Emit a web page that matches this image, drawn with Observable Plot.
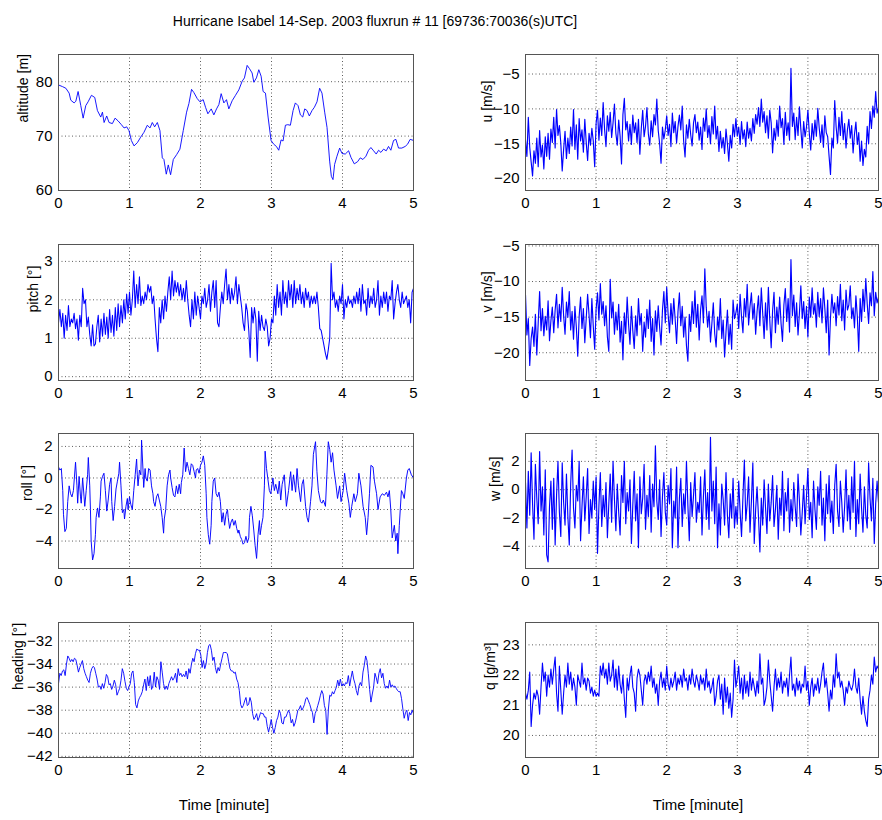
<!DOCTYPE html>
<html><head><meta charset="utf-8">
<script src="https://cdn.jsdelivr.net/npm/d3@7"></script>
<script src="https://cdn.jsdelivr.net/npm/@observablehq/plot@0.6"></script>
<style>
body{margin:0;background:#fff;}
#fig{position:relative;width:882px;height:820px;background:#fff;font-family:"Liberation Sans",Arial,sans-serif;overflow:hidden;}
.panel{position:absolute;}
.panel svg{max-width:none!important;}
#title{position:absolute;left:375px;top:13px;transform:translateX(-50%);font-size:14px;line-height:16px;white-space:nowrap;color:#000;}
</style></head><body>
<div id="fig"><div id="title">Hurricane Isabel 14-Sep. 2003 fluxrun # 11 [69736:70036(s)UTC]</div></div>
<script>
const TIME_END = 5;
const minuteTicks = [0,1,2,3,4,5];

// altitude [m] : [minute, value]
const altitude = [[0,79.4],[0.056,79.1],[0.103,78.8],[0.15,77.9],[0.173,76.6],[0.22,76.1],[0.244,76.4],[0.276,78.2],[0.314,75.6],[0.347,73.3],[0.384,75.6],[0.417,76.3],[0.464,77.5],[0.511,77.1],[0.548,74.7],[0.595,73.5],[0.619,74.4],[0.642,72.5],[0.679,73.7],[0.712,72.5],[0.759,72.3],[0.797,73.3],[0.839,72.8],[0.886,72.1],[0.923,71.5],[0.961,71.7],[0.993,71.0],[1.026,69.2],[1.064,68.2],[1.111,68.8],[1.157,69.8],[1.204,70.7],[1.251,72.0],[1.289,71.5],[1.321,72.5],[1.354,71.7],[1.392,72.5],[1.429,71.0],[1.462,66.0],[1.485,65.7],[1.518,63.0],[1.546,64.7],[1.579,62.9],[1.617,65.7],[1.664,66.6],[1.71,67.6],[1.757,71.0],[1.804,74.4],[1.837,76.0],[1.874,78.6],[1.907,78.0],[1.954,76.9],[1.992,76.3],[2.038,76.7],[2.071,75.3],[2.104,74.1],[2.151,75.0],[2.188,73.9],[2.226,75.0],[2.259,75.8],[2.291,77.8],[2.329,76.1],[2.366,76.7],[2.399,75.0],[2.446,76.5],[2.493,77.5],[2.54,78.5],[2.587,80.1],[2.619,80.7],[2.657,83.0],[2.69,82.4],[2.727,81.6],[2.751,79.9],[2.788,80.7],[2.821,82.2],[2.854,81.0],[2.882,78.2],[2.915,77.9],[2.952,73.5],[2.994,69.2],[3.032,68.5],[3.069,68.1],[3.102,67.4],[3.135,69.3],[3.163,69.1],[3.196,72.0],[3.229,72.1],[3.266,72.0],[3.304,74.7],[3.336,76.1],[3.374,75.6],[3.407,73.9],[3.44,73.5],[3.468,75.0],[3.5,74.7],[3.533,73.7],[3.571,74.7],[3.604,75.3],[3.641,76.3],[3.678,78.8],[3.711,77.9],[3.749,74.4],[3.782,71.6],[3.819,65.4],[3.843,62.6],[3.866,62.0],[3.889,64.8],[3.922,66.3],[3.96,67.8],[3.993,66.8],[4.039,66.7],[4.086,67.3],[4.119,66.1],[4.166,64.9],[4.213,65.3],[4.25,66.0],[4.288,65.7],[4.33,66.3],[4.367,67.4],[4.4,67.9],[4.438,67.3],[4.475,66.7],[4.508,67.4],[4.541,67.0],[4.578,67.6],[4.616,67.3],[4.648,68.1],[4.681,67.4],[4.719,69.2],[4.752,69.4],[4.789,67.8],[4.836,67.8],[4.883,68.1],[4.916,68.5],[4.953,69.4],[5,69.2]];

// roll [deg] : [minute, value]
const roll = [[0,0.7],[0.02,0.5],[0.04,0.6],[0.06,-0.8],[0.07,-2.3],[0.09,-3.4],[0.11,-3.2],[0.13,-1.5],[0.15,-0.5],[0.17,-1.0],[0.19,-1.2],[0.21,-0.8],[0.24,1.0],[0.26,-0.5],[0.27,-1.6],[0.29,0.1],[0.31,-1.2],[0.32,-1.6],[0.34,0.0],[0.36,-1.2],[0.37,-1.8],[0.39,-0.8],[0.41,0.2],[0.42,1.3],[0.44,-0.5],[0.45,-2.0],[0.46,-4.0],[0.48,-5.2],[0.50,-4.8],[0.52,-3.6],[0.53,-2.5],[0.55,-1.9],[0.57,-2.5],[0.59,-1.2],[0.60,-0.2],[0.62,0.1],[0.64,0.3],[0.66,-0.8],[0.68,-2.1],[0.70,-1.4],[0.72,-0.4],[0.74,0.0],[0.75,-1.5],[0.77,-2.7],[0.79,-1.8],[0.81,-0.7],[0.83,-0.2],[0.85,0.3],[0.86,1.0],[0.88,-0.5],[0.90,-2.2],[0.92,-2.0],[0.93,-2.6],[0.95,-1.8],[0.97,-1.3],[0.98,-2.0],[1.00,-1.2],[1.02,-1.7],[1.04,-2.0],[1.06,-0.8],[1.08,0.2],[1.10,1.2],[1.11,0.2],[1.12,-0.5],[1.14,0.5],[1.16,0.2],[1.17,2.4],[1.19,0.5],[1.20,-0.6],[1.22,0.6],[1.23,0.0],[1.25,-0.2],[1.27,0.6],[1.29,0.5],[1.31,-0.5],[1.33,-1.0],[1.34,-1.5],[1.36,-1.8],[1.38,-1.2],[1.40,-1.0],[1.42,-1.4],[1.44,-1.8],[1.46,-2.5],[1.48,-3.5],[1.49,-2.6],[1.51,-2.0],[1.53,-0.5],[1.55,0.2],[1.57,0.5],[1.58,0.0],[1.60,-0.6],[1.62,-1.1],[1.64,-1.2],[1.66,-0.5],[1.68,-1.0],[1.70,-0.4],[1.72,-1.0],[1.73,-0.3],[1.75,0.2],[1.77,1.9],[1.79,0.4],[1.81,1.0],[1.83,0.6],[1.85,0.2],[1.87,0.9],[1.89,0.8],[1.91,0.4],[1.93,0.0],[1.94,0.5],[1.96,0.6],[1.98,0.3],[2.00,0.8],[2.02,1.0],[2.04,1.4],[2.06,0.8],[2.08,-1.0],[2.09,-2.5],[2.11,-3.6],[2.13,-4.2],[2.15,-3.0],[2.16,-1.5],[2.18,-0.2],[2.20,0.0],[2.22,-1.0],[2.24,-1.2],[2.26,-0.9],[2.28,-1.5],[2.30,-2.8],[2.32,-2.2],[2.34,-3.0],[2.36,-2.3],[2.38,-2.0],[2.39,-2.5],[2.41,-3.2],[2.43,-2.8],[2.45,-2.6],[2.47,-3.0],[2.49,-2.7],[2.51,-3.2],[2.53,-3.5],[2.54,-3.3],[2.56,-3.7],[2.58,-3.9],[2.60,-4.2],[2.62,-4.1],[2.64,-3.7],[2.66,-4.1],[2.68,-3.8],[2.69,-2.5],[2.71,-1.8],[2.73,-2.4],[2.75,-3.3],[2.77,-4.3],[2.79,-5.1],[2.81,-3.6],[2.83,-2.7],[2.84,-3.6],[2.86,-3.0],[2.88,-2.5],[2.90,-0.5],[2.91,1.7],[2.93,0.6],[2.97,-0.8],[2.99,-1.0],[3.02,0.0],[3.04,-0.8],[3.06,-0.4],[3.09,-1.0],[3.11,-0.2],[3.13,-1.4],[3.15,-0.4],[3.18,0.2],[3.21,-1.8],[3.24,-0.8],[3.27,0.4],[3.29,-0.8],[3.31,0.2],[3.34,-0.9],[3.36,0.6],[3.38,-0.5],[3.41,-1.5],[3.43,-0.4],[3.45,-0.1],[3.48,-1.8],[3.50,-2.5],[3.52,-2.8],[3.55,-1.5],[3.57,-0.5],[3.59,1.5],[3.62,2.3],[3.64,0.4],[3.66,-0.8],[3.69,-1.5],[3.71,-1.6],[3.73,-1.4],[3.76,-1.8],[3.78,0.2],[3.80,2.3],[3.82,1.8],[3.84,1.0],[3.86,1.6],[3.88,0.5],[3.91,-0.5],[3.93,-1.3],[3.96,-0.5],[3.98,-1.5],[4.01,-0.8],[4.03,0.3],[4.06,-0.8],[4.09,-1.6],[4.11,-2.5],[4.13,-1.8],[4.16,-1.0],[4.18,-1.5],[4.21,-1.0],[4.23,0.3],[4.26,-0.5],[4.29,-1.8],[4.32,-2.5],[4.34,-3.6],[4.36,-2.5],[4.38,-1.0],[4.40,0.8],[4.43,0.7],[4.45,-0.2],[4.48,-1.0],[4.50,-2.0],[4.53,-1.2],[4.56,-1.0],[4.59,-1.1],[4.62,-0.9],[4.64,-1.2],[4.66,-0.8],[4.68,-2.0],[4.70,-3.8],[4.73,-3.0],[4.75,-4.0],[4.77,-3.5],[4.78,-4.8],[4.80,-3.0],[4.83,-0.8],[4.85,-1.0],[4.87,-1.3],[4.90,0.0],[4.92,0.5],[4.94,0.6],[4.97,0.2],[5.00,0.0]];

// evenly sampled series over 0..5 minutes
const heading = [-35.7,-34.8,-35.0,-34.6,-34.5,-35.0,-34.0,-33.3,-33.5,-33.8,-33.6,-33.8,-33.5,-33.6,-34.1,
-34.7,-34.3,-34.0,-33.7,-34.4,-34.8,-35.1,-35.4,-35.6,-34.8,-34.4,-34.2,-34.3,-34.8,-35.3,-36.0,-35.9,-36.2,-35.7,-36.1,-35.6,-34.9,-35.1,
-35.8,-35.7,-36.2,-35.9,-35.4,-35.8,-36.7,-36.4,-36.1,-35.4,-34.4,-34.8,-35.5,-36.1,-36.3,-36.0,-35.7,-34.8,-34.6,-35.6,-37.5,-37.8,-37.2,-36.9,-36.7,-36.4,-35.8,-35.3,-36.3,-35.1,-35.9,-35.0,-36.2,-35.9,-34.7,-36.0,-35.1,-35.4,-36.2,-33.8,-34.7,-35.7,-36.2,-35.9,-36.2,-35.7,-35.4,-35.1,-35.4,-35.2,-34.8,-35.6,-34.4,-35.0,-34.8,-35.1,-34.9,-35.1,-34.6,-35.3,-34.4,-34.8,-34.0,-33.5,-33.8,-33.1,-32.7,-32.8,-32.8,-33.2,-34.3,-33.7,-34.4,-34.0,-33.0,-32.4,-32.3,-32.8,-33.7,-33.4,-34.3,-34.8,-34.3,-34.6,-34.0,-33.5,-33.0,-33.0,-33.0,-33.1,-33.8,-34.4,-34.6,-34.6,-34.8,-34.7,-35.3,-35.6,-36.3,-37.5,-37.8,-37.6,-37.2,-36.9,-37.6,-37.5,-36.9,-37.3,-38.3,-38.8,-38.6,-38.3,-38.9,-38.6,-38.2,-38.3,-38.3,-38.6,-38.6,-39.4,-39.9,-39.4,-38.8,-39.5,-40.0,-39.5,-38.9,-38.6,-38.0,-38.3,-39.1,-39.2,-38.6,-38.6,-38.3,-38.0,-38.3,-39.1,-38.8,-39.4,-39.1,-38.6,-38.0,-37.9,-37.6,-38.0,-37.8,-37.5,-37.0,-36.9,-37.2,-37.5,-37.9,-38.2,-39.1,-38.3,-38.0,-37.6,-37.2,-36.7,-36.3,-36.6,-37.6,-38.0,-40.1,-37.9,-36.7,-36.8,-36.4,-36.6,-36.3,-36.0,-35.4,-35.9,-35.3,-35.9,-35.7,-35.9,-35.6,-35.7,-35.0,-35.9,-35.2,-34.6,-35.3,-35.7,-36.3,-36.7,-35.9,-35.6,-35.9,-34.7,-34.1,-33.3,-33.7,-34.8,-36.2,-37.3,-36.6,-36.0,-34.8,-35.2,-35.7,-34.8,-34.4,-35.2,-34.8,-35.7,-36.1,-35.9,-36.1,-35.4,-36.0,-35.8,-36.0,-35.9,-36.1,-36.3,-36.4,-36.4,-37.0,-37.9,-38.7,-38.2,-38.0,-38.9,-38.2,-38.4,-38.0,-38.3];

const pitch = [1.4,1.75,1.3,1.65,1.0, 1.6,1.2,1.85,1.3,1.5, 1.4,1.65,1.25,1.5,0.95, 1.6,1.3,2.3,1.9,2.0, 1.3,1.55,1.1,0.8,1.35,
0.8,0.85,1.3,1.6,0.9, 1.5,1.05,1.65,1.1,1.55, 1.0,1.75,1.15,1.6,1.05, 1.8,1.2,1.9,1.3,1.85, 1.4,2.0,1.5,2.15,1.65,
2.2,1.6,2.0,2.75,1.8, 2.4,1.9,2.6,1.85,2.1, 1.9,2.2,2.0,2.4,2.2, 2.35,1.9,2.1,1.5,1.0, 0.65,1.8,1.4,2.0,1.5,
2.1,1.7,2.2,2.6,2.0, 2.75,2.1,2.5,2.2,2.45, 2.1,2.4,2.0,2.3,1.95, 2.5,2.0,1.6,1.3,2.0, 1.5,2.2,1.6,2.1,1.8,
1.5,2.1,1.9,2.3,1.8, 2.0,2.4,1.7,2.2,2.5, 1.8,2.5,1.4,1.3,1.8, 2.2,1.9,2.4,2.8,2.0, 2.4,1.9,2.3,2.0,2.2,
2.6,1.9,2.4,2.1,1.8, 1.4,1.2,1.9,1.7,1.2, 0.5,1.8,1.4,1.8,1.5, 0.4,1.7,1.2,1.6,1.3, 1.2,1.5,1.3,0.8,1.0,
1.5,1.4,2.1,1.6,2.4, 1.8,2.2,1.6,2.5,1.9, 2.2,1.8,2.5,2.0,2.4, 1.8,2.5,1.9,2.3,2.0, 2.4,1.9,2.2,1.8,2.3,
2.0,2.2,1.8,2.1,1.9, 2.1,1.9,2.2,1.8,1.25, 1.2,1.0,0.8,0.6,0.45, 0.7,1.0,2.95,2.0,2.2, 1.8,2.0,1.7,2.1,1.9,
2.4,1.5,2.0,1.8,2.1, 1.9,2.0,1.8,2.1,1.9, 2.2,1.9,2.3,1.7,2.4, 1.9,2.0,1.6,2.3,1.8, 2.1,1.9,2.3,1.8,2.0,
2.5,1.6,2.1,1.8,2.2, 1.9,2.2,1.7,2.1,2.0, 2.5,1.5,1.9,2.2,2.4, 2.0,1.8,2.2,1.9,2.0, 2.1,1.8,2.0,1.4,2.2, 2.3];

const u = [-14.5,-16.8,-11.2,-15.5,-17.6, -19.6,-16.0,-17.8,-14.2,-18.3, -13.1,-16.9,-15.2,-18.6,-14.0, -16.8,-13.5,-17.2,-12.9,-14.8, -11.2,-15.6,-10.1,-13.8,-12.4,
-14.9,-18.9,-15.8,-13.2,-17.1, -14.2,-16.4,-12.6,-15.3,-10.1, -15.8,-12.3,-17.2,-11.4,-14.6, -13.0,-16.2,-11.5,-14.8,-17.4, -13.5,-15.2,-12.8,-14.6,-18.3,
-12.1,-10.2,-14.5,-11.3,-13.8, -9.1,-12.9,-15.4,-11.0,-13.2, -10.5,-14.1,-12.0,-9.3,-13.5, -15.2,-11.6,-13.9,-17.9,-10.8, -8.5,-13.0,-11.8,-14.6,-12.2,
-15.1,-10.9,-13.4,-12.0,-14.8, -11.5,-16.5,-12.8,-10.2,-14.0, -12.5,-9.8,-13.6,-15.2,-11.7, -14.0,-10.8,-12.3,-8.6,-13.1, -15.0,-17.8,-12.6,-14.3,-13.0,
-11.0,-13.8,-12.2,-15.4,-10.6, -13.4,-11.8,-14.9,-12.5,-10.9, -13.0,-9.6,-14.6,-16.9,-12.3, -14.2,-11.5,-13.7,-15.3,-12.0, -10.8,-13.4,-11.9,-14.5,-12.6,
-15.8,-11.3,-13.2,-10.0,-14.1, -12.4,-15.0,-11.1,-13.6,-9.6, -14.3,-12.5,-16.1,-13.2,-15.6, -14.1,-16.4,-12.9,-15.0,-17.5, -13.8,-15.6,-12.2,-14.0,-11.4,
-13.9,-12.6,-15.1,-11.8,-14.3, -13.0,-15.4,-11.9,-14.2,-12.8, -14.6,-11.4,-13.5,-10.8,-12.2, -9.8,-12.5,-8.6,-11.9,-10.4, -13.4,-11.0,-14.2,-10.2,-12.0,
-16.3,-12.8,-14.5,-11.6,-13.9, -9.6,-12.7,-11.4,-15.1,-10.5, -13.8,-12.0,-14.5,-4.2,-12.5, -10.6,-14.4,-11.2,-13.8,-9.7, -12.9,-15.6,-11.8,-14.0,-12.6,
-10.2,-13.5,-15.9,-12.1,-14.4, -11.6,-13.9,-9.9,-12.7,-14.8, -12.3,-15.5,-11.0,-13.4,-14.0, -16.8,-19.4,-14.2,-15.6,-8.8, -12.6,-14.9,-11.2,-13.8,-10.4,
-14.4,-12.1,-15.6,-13.0,-11.5, -14.2,-12.4,-16.3,-13.6,-11.9, -15.1,-13.4,-17.5,-14.6,-18.1, -15.8,-16.9,-12.5,-15.0,-10.4, -12.8,-9.6,-11.2,-7.5,-10.6, -9.8];

const v = [-11.9,-17.5,-15.2,-21.8,-18.0, -16.4,-19.1,-14.6,-20.3,-15.8, -11.4,-16.9,-13.8,-17.6,-14.9, -16.8,-12.7,-18.3,-15.5,-13.6, -17.2,-14.0,-11.8,-16.5,-13.2,
-15.6,-10.8,-14.8,-17.4,-12.9, -15.0,-11.4,-16.8,-14.2,-18.1, -13.5,-16.4,-20.5,-14.9,-12.2, -16.6,-13.8,-18.6,-15.2,-11.8, -14.7,-17.9,-12.4,-16.3,-19.5,
-13.9,-11.6,-15.4,-10.3,-14.6, -12.8,-16.2,-13.4,-17.8,-19.8, -9.7,-15.1,-12.9,-17.4,-14.3, -16.8,-13.2,-18.5,-15.6,-21.0, -14.4,-17.3,-12.2,-16.0,-18.8,
-13.5,-16.9,-19.4,-14.8,-17.6, -12.4,-16.1,-14.5,-19.8,-15.7, -17.8,-13.9,-16.6,-12.6,-18.4, -15.2,-20.3,-14.1,-17.0,-13.4, -16.5,-18.9,-14.0,-11.4,-15.8,
-10.8,-14.6,-17.2,-13.1,-16.0, -12.4,-15.3,-18.7,-14.2,-11.6, -16.2,-13.5,-17.8,-15.0,-19.0, -21.2,-14.6,-17.0,-12.8,-15.9, -11.3,-16.4,-13.2,-18.2,-14.0,
-12.0,-15.8,-8.2,-13.6,-16.4, -14.2,-18.5,-15.9,-13.0,-17.3, -19.2,-15.0,-16.8,-12.4,-18.0, -15.4,-20.6,-17.1,-14.0,-18.8, -16.0,-19.5,-12.6,-15.2,-14.4,
-13.2,-16.6,-11.8,-15.0,-17.2, -12.4,-14.9,-10.4,-16.1,-13.5, -11.6,-15.3,-13.1,-17.4,-14.2, -12.0,-16.2,-10.9,-14.5,-18.0, -13.0,-16.8,-10.8,-15.4,-19.3,
-14.1,-11.5,-17.2,-13.6,-16.0, -12.2,-15.9,-18.4,-13.3,-11.0, -15.6,-12.4,-17.1,-6.9,-14.8, -11.9,-16.3,-13.0,-17.5,-14.4, -10.6,-15.2,-12.8,-16.6,-13.5,
-17.8,-12.2,-15.0,-10.9,-14.6, -13.1,-16.4,-11.5,-14.9,-12.4, -15.8,-10.9,-13.8,-17.2,-12.6, -20.3,-15.1,-11.8,-14.4,-13.0, -16.2,-12.1,-14.7,-10.4,-15.5,
-12.6,-16.8,-11.2,-14.0,-13.3, -10.6,-15.2,-13.7,-16.5,-12.0, -14.9,-19.8,-12.4,-15.6,-11.1, -14.2,-9.6,-13.1,-15.9,-11.6, -13.4,-8.6,-14.8,-11.5,-13.0, -12.2];

const w = [0.5,-2.7,1.3,-1.8,2.6, -1.0,-3.5,1.8,-0.6,-2.4, 2.7,-1.5,0.2,-3.2,1.4, -4.6,-5.1,-1.2,0.6,-2.8, 0.8,-3.9,-0.4,2.0,-1.6,
-3.3,1.9,-0.9,-2.5,1.1, -1.9,-3.9,0.4,2.8,-1.3, -2.7,0.3,-0.8,2.0,-3.6, -1.2,0.9,-2.2,-0.5,1.5, -3.1,-0.7,-2.0,0.6,-1.4,
0.9,-4.5,-1.1,1.2,-2.6, -0.4,-1.9,0.5,-3.4,-1.0, 1.1,-2.3,2.0,-0.7,-2.9, 0.4,-1.6,-3.2,1.0,-0.9, 2.0,-2.4,-0.2,-1.5,0.7,
-3.8,-1.1,1.3,-2.2,-0.3, -4.1,0.9,-1.7,-0.6,1.8, -2.8,-0.4,-1.9,1.0,-3.0, 0.4,-1.2,3.1,-0.8,-2.1, 0.7,-3.3,-0.5,1.2,-1.6,
-2.5,0.3,-1.0,1.5,-4.1, -0.8,-2.0,1.6,-4.1,-0.6, 0.8,-2.6,-0.3,-1.7,2.0, -1.1,-3.6,0.5,-1.9,-0.4, 1.2,-2.3,-0.9,-1.6,0.9,
-3.2,-0.5,1.4,-2.1,-0.2, -2.8,3.7,-1.5,0.6,-2.4, 1.6,-4.1,-1.0,-3.2,0.4, -0.7,-2.5,1.2,-1.8,-3.4, -0.3,-2.0,0.8,-2.7,-1.2,
-2.4,0.6,-1.6,-3.3,-0.5, 2.1,-2.2,-1.0,0.9,-3.0, -0.8,1.9,-3.8,-1.4,0.2, -1.9,-4.4,-0.6,-2.5,0.7, -1.3,-3.1,0.4,-2.2,-0.9,
1.0,-2.6,-1.4,0.3,-3.5, -0.6,-1.8,1.3,-2.9,-0.2, -1.5,0.8,-3.0,-0.7,-2.2, 0.5,-1.2,-2.6,1.1,-0.8, -3.2,-1.6,0.3,-2.4,-0.5,
1.5,-2.1,-0.9,-3.4,0.6, -1.4,-2.8,0.2,-1.1,1.3, -2.5,-0.6,-3.6,0.4,-1.7, 1.0,-2.3,-0.8,-3.1,0.3, 1.8,-1.5,-2.6,0.6,-0.9,
-3.0,-1.2,1.4,-2.2,-0.4, -2.8,0.9,-1.6,2.0,-3.3, -0.7,-2.4,1.1,-1.3,-3.0, 0.2,-1.8,-2.7,1.9,-0.6, -2.2,0.8,-3.8,-1.0,0.6, -0.9];

const q = [21.4,21.2,21.5,22.1,20.3, 21.0,21.4,21.2,21.5,21.3, 20.7,21.6,22.4,21.8,22.1, 21.3,22.0,21.6,22.2,21.7, 22.2,22.6,21.4,20.8,22.3,
21.5,20.7,21.4,22.0,21.6, 22.4,21.7,22.1,21.5,21.9, 21.6,21.0,22.0,21.8,21.6, 22.4,21.7,21.9,21.5,21.9, 21.8,21.4,21.6,21.3,21.5,
21.3,21.4,21.3,22.3,22.0, 22.4,21.9,22.2,21.7,22.4, 21.8,22.0,22.5,21.6,22.2, 21.5,22.3,21.7,21.4,22.0, 21.2,20.6,21.9,21.5,22.0,
22.3,21.6,21.4,20.8,21.9, 22.2,22.0,21.5,21.0,21.8, 22.0,21.7,22.1,21.8,22.3, 21.6,21.9,21.4,21.7,21.0, 21.8,22.1,21.6,21.9,21.5,
22.3,21.7,21.5,21.9,21.6, 21.8,22.1,21.5,21.9,21.7, 22.0,21.6,22.2,21.8,21.9, 21.5,22.0,21.7,22.2,21.8, 21.6,22.0,21.8,21.5,22.0,
21.7,21.9,21.5,22.2,21.6, 21.8,21.4,21.6,21.9,21.0, 21.3,21.8,22.0,21.2,21.7, 20.7,21.9,21.1,21.6,20.9, 21.4,20.6,21.2,22.5,21.6,
21.9,22.3,21.4,21.9,21.2, 22.0,21.4,21.8,21.3,22.1, 21.5,21.9,21.6,21.3,21.8, 21.4,22.7,21.7,21.9,21.0, 21.2,21.6,22.5,21.8,21.3,
20.8,21.6,22.2,21.5,21.9, 21.6,22.1,21.4,21.8,21.6, 21.9,21.3,22.0,22.6,21.5, 21.7,21.3,21.9,21.5,21.8, 21.4,21.7,21.6,22.3,21.5,
21.8,21.0,21.6,21.9,21.3, 21.7,21.5,21.9,21.4,21.7, 22.1,22.4,21.6,21.9,21.4, 20.8,21.5,21.2,22.0,21.6, 22.7,21.9,22.1,21.6,21.8,
21.5,21.0,21.6,21.4,21.8, 21.6,21.5,21.7,22.2,21.6, 21.4,21.9,21.2,20.7,21.3, 20.8,20.5,20.3,21.2,21.5, 22.0,21.7,22.6,22.1,22.3, 22.2];

function sampled(values) {
  return values.map((val, i) => [i * TIME_END / (values.length - 1), val]);
}

const panels = [
  {series: altitude, label: "altitude [m]", y: [60, 85], ticks: [60,70,80], col: 0, top: 54, fh: 136, lab: 35, sw: 0.9},
  {series: sampled(u), label: "u [m/s]", y: [-21.7, -2.2], ticks: [-20,-15,-10,-5], col: 1, top: 54, fh: 136, lab: 38, sw: 1.15},
  {series: sampled(pitch), label: "pitch [°]", y: [-0.1, 3.44], ticks: [0,1,2,3], col: 0, top: 244, fh: 136, lab: 25, sw: 1.05},
  {series: sampled(v), label: "v [m/s]", y: [-23.9, -4.8], ticks: [-20,-15,-10,-5], col: 1, top: 244, fh: 136, lab: 38, sw: 1.15},
  {series: roll, label: "roll [°]", y: [-5.74, 2.82], ticks: [-4,-2,0,2], col: 0, top: 433, fh: 135, lab: 31, sw: 0.95},
  {series: sampled(w), label: "w [m/s]", y: [-5.57, 3.97], ticks: [-4,-2,0,2], col: 1, top: 433, fh: 135, lab: 30, sw: 1.15},
  {series: sampled(heading), label: "heading [°]", y: [-42.1, -30.4], ticks: [-42,-40,-38,-36,-34,-32], col: 0, top: 622, fh: 135, lab: 40, sw: 0.9, xlabel: "Time [minute]", xdx: -12},
  {series: sampled(q), label: "q [g/m³]", y: [19.27, 23.74], ticks: [20,21,22,23], col: 1, top: 622, fh: 135, lab: 35, sw: 1.1, xlabel: "Time [minute]", xdx: -4}
];

const fig = document.getElementById("fig");
for (const p of panels) {
  const width = p.col ? 442 : 430;
  const ml = p.col ? 85 : 58;
  const mr = p.col ? 4 : 17;
  const mt = 10;
  const mb = p.xlabel ? 70 : 30;
  const marks = [
    Plot.gridX([1,2,3,4], {stroke: "#000", strokeOpacity: 0.8, strokeWidth: 0.8, strokeDasharray: "1,2.5"}),
    Plot.gridY(p.ticks, {stroke: "#000", strokeOpacity: 0.8, strokeWidth: 0.8, strokeDasharray: "1,2.5"}),
    Plot.line(p.series, {x: d => d[0], y: d => d[1], stroke: "#0000ff", strokeWidth: p.sw, clip: true}),
    Plot.frame({stroke: "#555", strokeWidth: 1}),
    Plot.axisX(minuteTicks, {tickSize: 0, tickPadding: 7, label: null, fontSize: 15}),
    Plot.axisY(p.ticks, {tickSize: 0, tickPadding: 6, label: null, fontSize: 15}),
    Plot.text([p.label], {text: d => d, frameAnchor: "left", dx: -p.lab, rotate: -90, fontSize: 14})
  ];
  if (p.xlabel) marks.push(Plot.text([p.xlabel], {text: d => d, frameAnchor: "bottom", dy: 52, dx: p.xdx, fontSize: 15}));
  const chart = Plot.plot({
    width, height: mt + p.fh + mb,
    marginLeft: ml, marginRight: mr, marginTop: mt, marginBottom: mb,
    style: {fontFamily: '"Liberation Sans", Arial, sans-serif', fontSize: "15px", color: "#000", background: "transparent", overflow: "visible"},
    x: {domain: [0, TIME_END]},
    y: {domain: p.y},
    marks
  });
  const holder = document.createElement("div");
  holder.className = "panel";
  holder.style.left = (p.col ? 440 : 0) + "px";
  holder.style.top = (p.top - mt) + "px";
  holder.appendChild(chart);
  fig.appendChild(holder);
}
</script>
</body></html>
